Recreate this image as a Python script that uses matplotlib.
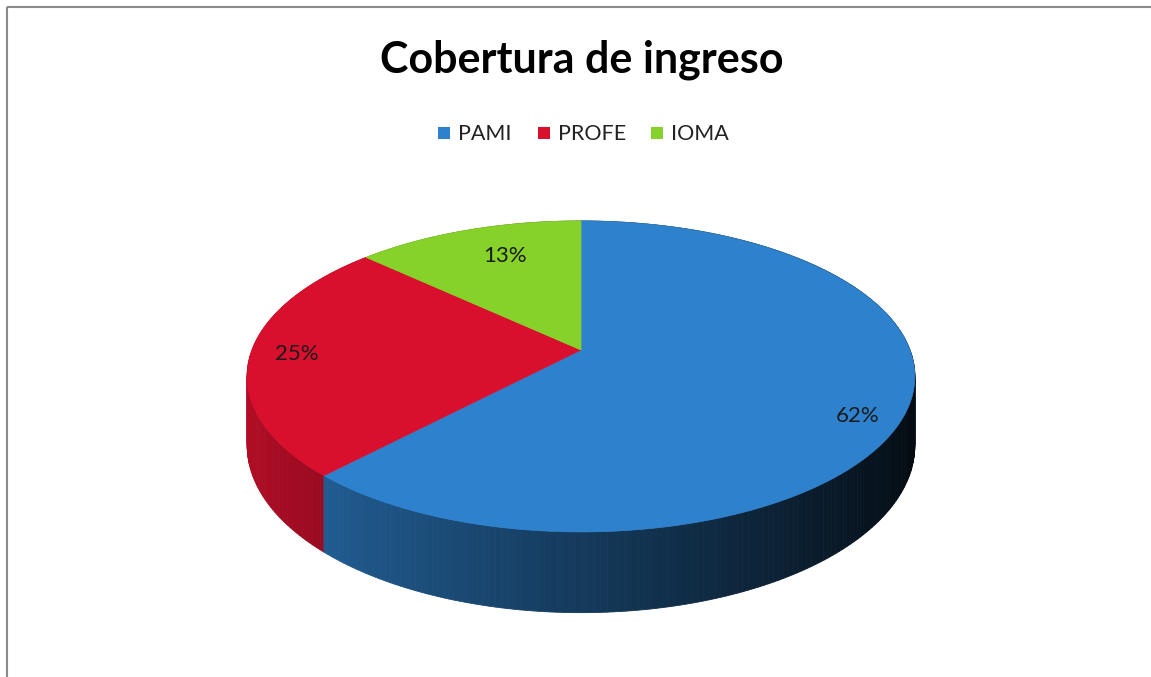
import numpy as np
import matplotlib
matplotlib.use('Agg')
import matplotlib.pyplot as plt
from matplotlib.patches import Polygon, Rectangle

# data
labels = ['PAMI', 'PROFE', 'IOMA']
values = [62, 25, 13]
colors = ['#2e81cc', '#d8102e', '#86d22a']
title = 'Cobertura de ingreso'

plt.rcParams['font.family'] = ['Lato', 'DejaVu Sans']

W, H = 1151, 677
fig = plt.figure(figsize=(W / 100, H / 100), dpi=100)
ax = fig.add_axes([0, 0, 1, 1])
ax.set_xlim(0, W)
ax.set_ylim(H, 0)
ax.axis('off')

# perspective model of the pie (pixel space)
cx, cy = 581, 350      # projected centre
a, b = 329, 151        # radii
k = 0.17               # perspective strength
depth = 67             # thickness


def proj(theta, down=0.0):
    # theta: clockwise from 12 o'clock (radians)
    X = np.sin(theta)
    Y = np.cos(theta)
    w = 1 + k * Y
    return cx + a * X / w, cy + (-b * Y + down) / w


def shade(hexcol, f):
    rgb = np.array(matplotlib.colors.to_rgb(hexcol))
    return tuple(np.clip(rgb * f, 0, 1))


total = float(sum(values))
bounds = np.cumsum([0] + values) / total * 2 * np.pi

# side walls, back to front
strips = []
for i, v in enumerate(values):
    t = np.linspace(bounds[i], bounds[i + 1], max(int(v * 4), 8))
    for t0, t1 in zip(t[:-1], t[1:]):
        x0, y0 = proj(t0)
        x1, y1 = proj(t1)
        x0b, y0b = proj(t0, depth)
        x1b, y1b = proj(t1, depth)
        tm = 0.5 * (t0 + t1)
        f = np.clip(0.45 - 0.38 * np.sin(tm), 0.07, 0.85)
        strips.append((np.cos(tm), [(x0, y0), (x1, y1), (x1b, y1b), (x0b, y0b)],
                       shade(colors[i], f)))
strips.sort(key=lambda s: -s[0])
for _, pts, c in strips:
    ax.add_patch(Polygon(pts, closed=True, facecolor=c, edgecolor=c, lw=0.6))

# top face
for i, v in enumerate(values):
    t = np.linspace(bounds[i], bounds[i + 1], 200)
    xs, ys = proj(t)
    pts = [(cx, cy)] + list(zip(xs, ys))
    ax.add_patch(Polygon(pts, closed=True, facecolor=colors[i],
                         edgecolor=colors[i], lw=0.5))

# data labels
label_pos = [(858, 416), (297, 354), (505, 256)]
for (lx, ly), v in zip(label_pos, values):
    ax.text(lx, ly, '%d%%' % round(v / total * 100), fontsize=16,
            color='#1a1a1a', ha='center', va='center')

# title
ax.text(582, 60, title, fontsize=31, fontweight='bold', color='black',
        ha='center', va='center')

# legend
leg_x = [438, 538, 651]
for i, lab in enumerate(labels):
    ax.add_patch(Rectangle((leg_x[i], 127), 12, 12, facecolor=colors[i],
                           edgecolor='none'))
    ax.text(leg_x[i] + 20, 134, lab, fontsize=15.5, color='#222222',
            ha='left', va='center')

# chart frame
ax.add_patch(Rectangle((7, 7), W + 20, H + 20, facecolor='none',
                       edgecolor='#8a8a8a', lw=1.5))

fig.savefig('out.png', dpi=100)
